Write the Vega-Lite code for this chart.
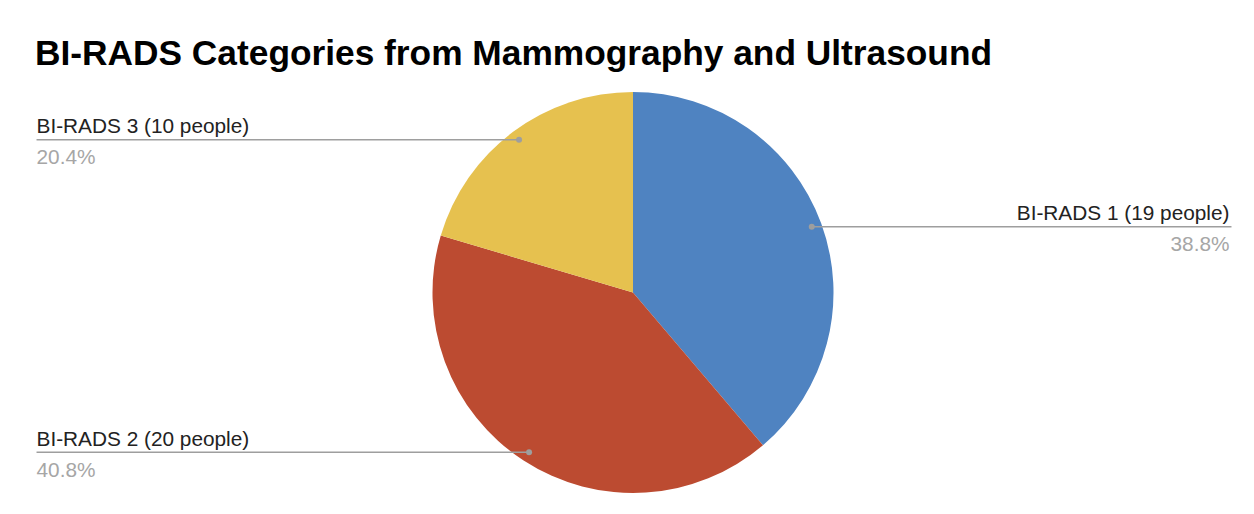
{
  "$schema": "https://vega.github.io/schema/vega-lite/v6.json",
  "width": 1242,
  "height": 425,
  "autosize": {"type": "none"},
  "padding": {"left": 12, "top": 80, "right": 0, "bottom": 9},
  "background": "#ffffff",
  "title": {
    "text": "BI-RADS Categories from Mammography and Ultrasound",
    "anchor": "start",
    "font": "Liberation Sans",
    "fontSize": 35.3,
    "fontWeight": "bold",
    "color": "#000000",
    "baseline": "alphabetic",
    "offset": 15,
    "dx": 23,
    "dy": 35
  },
  "config": {"view": {"stroke": null}},
  "data": {
    "values": [
      {"category": "BI-RADS 1", "people": 19},
      {"category": "BI-RADS 2", "people": 20},
      {"category": "BI-RADS 3", "people": 10}
    ]
  },
  "transform": [
    {"window": [{"op": "sum", "field": "people", "as": "cum"}], "sort": [{"field": "category", "order": "ascending"}], "frame": [null, 0]},
    {"joinaggregate": [{"op": "sum", "field": "people", "as": "total"}]},
    {"calculate": "(datum.cum - datum.people / 2) / datum.total * 2 * PI", "as": "mid"},
    {"calculate": "0.95 * sin(datum.mid)", "as": "dotX"},
    {"calculate": "0.95 * cos(datum.mid)", "as": "dotY"},
    {"calculate": "datum.dotX > 0 ? 2.985 : -2.975", "as": "lineEnd"},
    {"calculate": "datum.dotX > 0 ? 2.975 : -2.975", "as": "textX"},
    {"calculate": "datum.category + ' (' + datum.people + ' people)'", "as": "label"},
    {"calculate": "format(datum.people / datum.total, '.1%')", "as": "pct"}
  ],
  "layer": [
    {
      "mark": {"type": "arc", "outerRadius": 200.5},
      "encoding": {
        "theta": {"field": "people", "type": "quantitative", "stack": true},
        "order": {"field": "category", "sort": "ascending"},
        "color": {
          "field": "category",
          "type": "nominal",
          "scale": {"domain": ["BI-RADS 1", "BI-RADS 2", "BI-RADS 3"], "range": ["#4f83c1", "#bc4b31", "#e6c14f"]},
          "legend": null
        }
      }
    },
    {
      "mark": {"type": "rule", "color": "#9e9e9e", "strokeWidth": 1.5},
      "encoding": {
        "x": {"field": "dotX", "type": "quantitative", "scale": {"domain": [-3.0973, 3.0973], "nice": false, "zero": false}, "axis": null},
        "x2": {"field": "lineEnd"},
        "y": {"field": "dotY", "type": "quantitative", "scale": {"domain": [-1.0599, 1.0599], "nice": false, "zero": false}, "axis": null}
      }
    },
    {
      "mark": {"type": "point", "filled": true, "color": "#9e9e9e", "size": 36, "opacity": 1},
      "encoding": {
        "x": {"field": "dotX", "type": "quantitative"},
        "y": {"field": "dotY", "type": "quantitative"}
      }
    },
    {
      "transform": [{"filter": "datum.dotX < 0"}],
      "mark": {"type": "text", "align": "left", "baseline": "alphabetic", "dy": -6.5, "font": "Liberation Sans", "fontSize": 20.8, "color": "#222222"},
      "encoding": {
        "x": {"field": "textX", "type": "quantitative"},
        "y": {"field": "dotY", "type": "quantitative"},
        "text": {"field": "label"}
      }
    },
    {
      "transform": [{"filter": "datum.dotX < 0"}],
      "mark": {"type": "text", "align": "left", "baseline": "alphabetic", "dy": 24.5, "font": "Liberation Sans", "fontSize": 20.8, "color": "#a6a6a6"},
      "encoding": {
        "x": {"field": "textX", "type": "quantitative"},
        "y": {"field": "dotY", "type": "quantitative"},
        "text": {"field": "pct"}
      }
    },
    {
      "transform": [{"filter": "datum.dotX > 0"}],
      "mark": {"type": "text", "align": "right", "baseline": "alphabetic", "dy": -6.5, "font": "Liberation Sans", "fontSize": 20.8, "color": "#222222"},
      "encoding": {
        "x": {"field": "textX", "type": "quantitative"},
        "y": {"field": "dotY", "type": "quantitative"},
        "text": {"field": "label"}
      }
    },
    {
      "transform": [{"filter": "datum.dotX > 0"}],
      "mark": {"type": "text", "align": "right", "baseline": "alphabetic", "dy": 24.5, "font": "Liberation Sans", "fontSize": 20.8, "color": "#a6a6a6"},
      "encoding": {
        "x": {"field": "textX", "type": "quantitative"},
        "y": {"field": "dotY", "type": "quantitative"},
        "text": {"field": "pct"}
      }
    }
  ]
}
